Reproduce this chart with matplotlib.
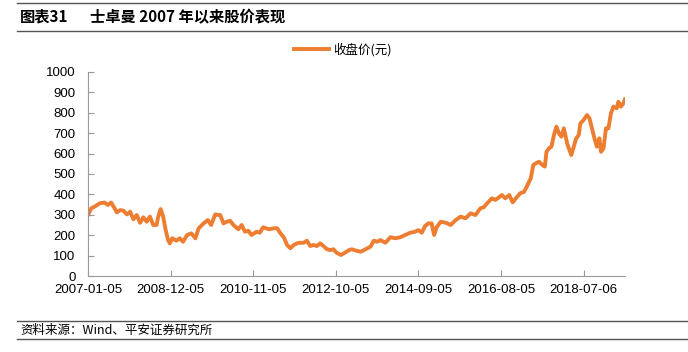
import numpy as np
import pandas as pd
import matplotlib
matplotlib.use('Agg')
import matplotlib.pyplot as plt

plt.rcParams['font.family'] = ['Liberation Sans', 'Noto Sans CJK SC', 'DejaVu Sans']

# weekly closing price (week number from 2007-01-05)
weeks = [0, 4, 8, 14, 20, 24, 28, 31, 35, 39, 43, 47, 51, 55, 59, 63, 67, 71, 75, 79,
         83, 85, 88, 91, 94, 97, 99, 102, 107, 111, 115, 120, 125, 130, 134, 140, 145,
         149, 154, 158, 160, 164, 168, 172, 176, 182, 186, 190, 194, 198, 204, 208, 212,
         219, 225, 229, 233, 237, 241, 245, 249, 253, 257, 261, 265, 269, 273, 277, 281,
         285, 289, 293, 297, 301, 306, 311, 316, 319, 325, 330, 336, 342, 346, 350, 354,
         360, 366, 372, 378, 384, 390, 396, 400, 404, 408, 412, 416, 419, 422, 427, 433,
         439, 445, 451, 457, 463, 469, 475, 479, 483, 489, 493, 497, 501, 505, 510, 514,
         518, 523, 528, 532, 536, 539, 542, 546, 550, 553, 555, 558, 561, 564, 567, 570,
         573, 576, 580, 582, 585, 588, 591, 594, 596, 600, 604, 607, 610, 613, 616, 619,
         621, 624, 627, 630, 633, 636, 640, 642, 645, 648, 650]
close = [299, 332, 340, 356, 360, 348, 360, 340, 312, 323, 320, 302, 315, 278, 299, 261,
         288, 266, 291, 250, 250, 291, 328, 291, 225, 176, 160, 185, 173, 185, 168, 201,
         209, 185, 234, 258, 274, 250, 302, 299, 299, 258, 266, 271, 250, 229, 250, 217,
         222, 201, 217, 212, 239, 229, 234, 234, 209, 190, 152, 136, 152, 160, 163, 163,
         173, 147, 152, 147, 160, 147, 132, 127, 131, 114, 103, 114, 127, 131, 124, 119,
         131, 144, 173, 168, 176, 163, 190, 185, 190, 201, 212, 217, 225, 212, 245, 258,
         258, 201, 239, 266, 261, 250, 274, 291, 283, 307, 299, 332, 337, 356, 381, 373,
         384, 397, 381, 397, 361, 381, 405, 413, 446, 479, 544, 552, 560, 544, 536, 609,
         626, 634, 691, 732, 699, 683, 724, 650, 626, 593, 634, 675, 691, 748, 765, 789,
         773, 724, 675, 634, 675, 609, 626, 724, 724, 797, 830, 822, 854, 830, 846, 866]

tick_labels = ['2007-01-05', '2008-12-05', '2010-11-05', '2012-10-05',
               '2014-09-05', '2016-08-05', '2018-07-06']

start = pd.Timestamp('2007-01-05')
dates = [start + pd.Timedelta(weeks=w) for w in weeks]
ticks = pd.to_datetime(tick_labels)

fig = plt.figure(figsize=(6.88, 3.52), dpi=100)
ax = fig.add_axes([0.1279, 0.2159, 0.7805, 0.5796])

ax.plot(dates, close, color='#ED7D31', lw=2.8, label='收盘价(元)', solid_joinstyle='round')

ax.set_ylim(0, 1000)
ax.set_yticks(range(0, 1001, 100))
ax.set_xlim(dates[0], dates[-1])
ax.set_xticks(ticks)
ax.set_xticklabels(tick_labels)

for s in ['top', 'right']:
    ax.spines[s].set_visible(False)
for s in ['left', 'bottom']:
    ax.spines[s].set_color('#9a9a9a')
    ax.spines[s].set_linewidth(0.8)
ax.tick_params(axis='both', direction='in', length=4, color='#9a9a9a', labelsize=9.5)
ax.tick_params(axis='y', pad=9)
ax.tick_params(axis='x', pad=6)

leg = ax.legend(loc='lower center', bbox_to_anchor=(0.475, 1.02), frameon=False,
                handlelength=2.8, handletextpad=0.3,
                prop={'family': ['Noto Sans CJK SC'], 'size': 9})

# header / footer rules and texts
for y in [0.991, 0.912, 0.088, 0.037]:
    fig.add_artist(plt.Line2D([0.024, 1.0], [y, y], color='#555555', lw=1.0))
fig.text(0.029, 0.952, '图表31', fontsize=11, fontweight='bold', va='center',
         family=['Noto Sans CJK SC'])
fig.text(0.131, 0.952, '士卓曼 2007 年以来股价表现', fontsize=11, fontweight='bold', va='center',
         family=['Noto Sans CJK SC'])
fig.text(0.03, 0.062, '资料来源：Wind、平安证券研究所', fontsize=9, style='italic', va='center',
         family=['Noto Sans CJK SC'])

fig.savefig('out.png', dpi=100)
